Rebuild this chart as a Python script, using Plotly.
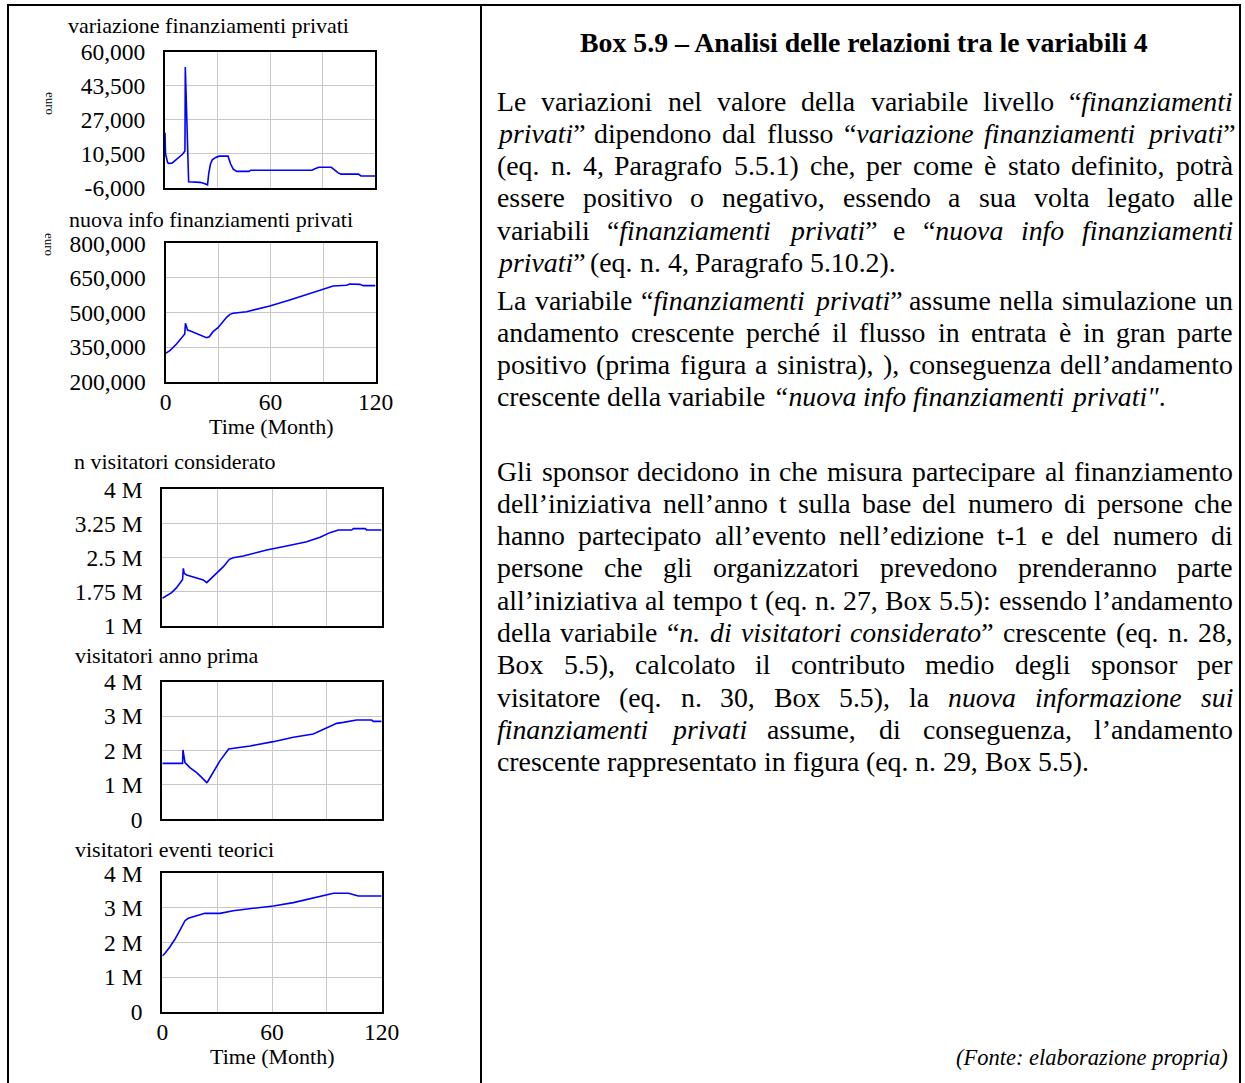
import plotly.graph_objects as go

W, H = 1245, 1083
SERIF = "Liberation Serif, Times New Roman, serif"
BLUE = "#0000ff"
GRID = "#c8c8c8"

# ---------------------------------------------------------------- data
# Simulation output, time in months
t_var_fin = [0, 0.3, 1.5, 2, 4, 6, 8, 10, 11.4, 11.6, 13.5, 16, 20, 22, 23.5, 24.3,
             25, 26, 27, 29, 31, 36, 37.5, 39, 41, 48, 49, 84, 86, 88, 95, 97, 99,
             100.5, 110.5, 112, 120]
var_fin = [20700, 10500, 6200, 5800, 5900, 7200, 8600, 10200, 11800, 52600, -3100,
           -3100, -3400, -3800, -4300, -4600, 1000, 5500, 7500, 8700, 9300, 9400,
           5500, 3000, 1900, 1900, 2500, 2500, 3300, 3900, 3900, 2500, 1200, 600,
           600, -300, -300]

t_nuova_info = [0, 2.5, 6.3, 9.1, 11, 11.4, 12.6, 13.9, 17.7, 21.5, 23.4, 25, 27.2,
                30, 32, 34.9, 36.8, 38.7, 46.3, 59.6, 71, 78.7, 86.3, 95.8, 103.4,
                105.3, 111, 113, 120]
nuova_info = [322900, 334500, 363400, 388000, 406700, 453000, 424000, 421000,
              409600, 398000, 390800, 395000, 416900, 434200, 453000, 479000,
              492000, 496400, 503600, 528000, 554000, 573000, 590400, 615000,
              617800, 623600, 622000, 616400, 616400]

t_vis_cons = [0, 2.4, 5.1, 7.8, 9.7, 10.8, 11.1, 11.5, 12, 13.3, 18.8, 22.4, 24.3,
              26.1, 29.7, 33.4, 36.7, 38.8, 44.3, 57.1, 68, 79, 86.3, 91.7, 96.3,
              103.6, 104.5, 110.9, 111.8, 120]
vis_cons = [1607000, 1658000, 1732000, 1841000, 1951000, 1995000, 2020000, 2266000,
            2156000, 2120000, 2060000, 2010000, 1951000, 2024000, 2171000, 2302000,
            2463000, 2500000, 2537000, 2668000, 2756000, 2851000, 2946000, 3049000,
            3107000, 3107000, 3137000, 3137000, 3107000, 3107000]

t_vis_prima = [0, 11.1, 11.3, 11.9, 12.4, 15.1, 18.8, 21.5, 24.3, 24.8, 27.9, 31.6,
               36.3, 42.5, 48, 60.7, 71.7, 82.6, 89, 95.4, 99, 106.3, 114.5, 115.4, 120]
vis_prima = [1627000, 1627000, 2015000, 1772000, 1647000, 1501000, 1356000, 1220000,
             1065000, 1094000, 1385000, 1705000, 2044000, 2092000, 2131000, 2257000,
             2383000, 2479000, 2644000, 2789000, 2818000, 2886000, 2886000, 2847000,
             2847000]

t_vis_teor = [0, 1.5, 4.2, 6.9, 9.7, 11.1, 12.4, 14.2, 17, 20.6, 23.3, 31.6, 38.8,
              49.8, 60.7, 71.7, 82.6, 89, 93.6, 101.8, 107.2, 120]
vis_teor = [1610000, 1687000, 1879000, 2092000, 2361000, 2506000, 2631000, 2699000,
            2747000, 2795000, 2843000, 2843000, 2920000, 2988000, 3055000, 3152000,
            3277000, 3354000, 3422000, 3422000, 3345000, 3345000]

# axis ticks
time_ticks = [0, 30, 60, 90, 120]
time_labels = ["0", "", "60", "", "120"]
var_ticks = [-6000, 10500, 27000, 43500, 60000]
var_labels = ["-6,000", "10,500", "27,000", "43,500", "60,000"]
info_ticks = [200000, 350000, 500000, 650000, 800000]
info_labels = ["200,000", "350,000", "500,000", "650,000", "800,000"]
cons_ticks = [1000000, 1750000, 2500000, 3250000, 4000000]
cons_labels = ["1 M", "1.75 M", "2.5 M", "3.25 M", "4 M"]
mil_ticks = [0, 1000000, 2000000, 3000000, 4000000]
mil_labels = ["0", "1 M", "2 M", "3 M", "4 M"]

titles = ["variazione finanziamenti privati", "nuova info finanziamenti privati",
          "n visitatori considerato", "visitatori anno prima",
          "visitatori eventi teorici"]
unit_label = "euro"

box_title = "Box 5.9 – Analisi delle relazioni tra le variabili 4"
paragraphs = [
    [
        "Le variazioni nel valore della variabile livello “<i>finanziamenti</i>",
        "<i>privati</i>” dipendono dal flusso “<i>variazione finanziamenti privati</i>”",
        "(eq. n. 4, Paragrafo 5.5.1) che, per come è stato definito, potrà",
        "essere positivo o negativo, essendo a sua volta legato alle",
        "variabili “<i>finanziamenti privati</i>” e “<i>nuova info finanziamenti</i>",
        "<i>privati</i>” (eq. n. 4, Paragrafo 5.10.2).",
    ],
    [
        "La variabile “<i>finanziamenti privati</i>” assume nella simulazione un",
        "andamento crescente perché il flusso in entrata è in gran parte",
        "positivo (prima figura a sinistra), ), conseguenza dell’andamento",
        "crescente della variabile <i>“nuova info finanziamenti privati\"</i>.",
    ],
    [
        "Gli sponsor decidono in che misura partecipare al finanziamento",
        "dell’iniziativa nell’anno t sulla base del numero di persone che",
        "hanno partecipato all’evento nell’edizione t-1 e del numero di",
        "persone che gli organizzatori prevedono prenderanno parte",
        "all’iniziativa al tempo t (eq. n. 27, Box 5.5): essendo l’andamento",
        "della variabile “<i>n. di visitatori considerato</i>” crescente (eq. n. 28,",
        "Box 5.5), calcolato il contributo medio degli sponsor per",
        "visitatore (eq. n. 30, Box 5.5), la <i>nuova informazione sui</i>",
        "<i>finanziamenti privati</i> assume, di conseguenza, l’andamento",
        "crescente rappresentato in figura (eq. n. 29, Box 5.5).",
    ],
]
source_note = "(Fonte: elaborazione propria)"


# ---------------------------------------------------------------- helpers
def px_x(x):
    return x / W


def px_y(y):
    return 1 - y / H


# Times-compatible advance widths (1/1000 em) used to justify the body text
ROMAN = dict(zip("abcdefghijklmnopqrstuvwxyz",
                 [444, 500, 444, 500, 444, 333, 500, 500, 278, 278, 500, 278, 778,
                  500, 500, 500, 500, 333, 389, 278, 500, 500, 722, 500, 500, 444]))
ROMAN.update(zip("ABCDEFGHIJKLMNOPQRSTUVWXYZ",
                 [722, 667, 667, 722, 611, 556, 722, 722, 333, 389, 722, 611, 889,
                  722, 722, 556, 722, 667, 556, 611, 722, 722, 944, 722, 722, 611]))
ROMAN.update({c: 500 for c in "0123456789"})
ROMAN.update({".": 250, ",": 250, "(": 333, ")": 333, ":": 278, ";": 278, "-": 333,
              "–": 500, "“": 444, "”": 444, "’": 333, "‘": 333, '"': 408,
              "è": 444, "à": 444, "é": 444, "ò": 500, "ù": 500, " ": 250})
ITALIC = dict(zip("abcdefghijklmnopqrstuvwxyz",
                  [500, 500, 444, 500, 444, 278, 500, 500, 278, 278, 444, 278, 722,
                   500, 500, 500, 500, 389, 389, 278, 500, 444, 667, 444, 444, 389]))
ITALIC.update({c: 500 for c in "0123456789"})
ITALIC.update({".": 250, ",": 250, "(": 333, ")": 333, ":": 333, "“": 556, "”": 556,
               "’": 333, '"': 420, "F": 611, " ": 250})


def split_words(line):
    """Split a marked-up line into words made of (text, italic) runs."""
    words, cur, buf, italic, i = [], [], "", False, 0
    while i < len(line):
        if line.startswith("<i>", i) or line.startswith("</i>", i):
            if buf:
                cur.append((buf, italic))
                buf = ""
            italic = line.startswith("<i>", i)
            i += 3 if italic else 4
            continue
        ch = line[i]
        if ch == " ":
            if buf:
                cur.append((buf, italic))
                buf = ""
            if cur:
                words.append(cur)
                cur = []
        else:
            buf += ch
        i += 1
    if buf:
        cur.append((buf, italic))
    if cur:
        words.append(cur)
    return words


def word_width(runs, size):
    total = 0
    for text, it in runs:
        table = ITALIC if it else ROMAN
        total += sum(table.get(ch, 500) for ch in text)
    return total * size / 1000


def word_html(runs):
    return "".join(f"<i>{t}</i>" if it else t for t, it in runs)


def label(text, x, y, size, xanchor="left", angle=0, italic=False):
    return dict(text=f"<i>{text}</i>" if italic else text, x=px_x(x), y=px_y(y),
                xref="paper", yref="paper", xanchor=xanchor, yanchor="middle",
                textangle=angle, showarrow=False, borderpad=0,
                font=dict(family=SERIF, size=size, color="black"))


# ---------------------------------------------------------------- figure
fig = go.Figure()

panels = [
    (t_var_fin, var_fin, (165, 375), (51.7, 187.7), [-6000, 60000], var_ticks, var_labels, False),
    (t_nuova_info, nuova_info, (165.5, 375.5), (243.3, 381.7), [200000, 800000], info_ticks, info_labels, True),
    (t_vis_cons, vis_cons, (162.3, 381.7), (489.3, 626), [1000000, 4000000], cons_ticks, cons_labels, False),
    (t_vis_prima, vis_prima, (162.3, 381.7), (681.7, 819.3), [0, 4000000], mil_ticks, mil_labels, False),
    (t_vis_teor, vis_teor, (162.3, 381.7), (873.3, 1011.7), [0, 4000000], mil_ticks, mil_labels, True),
]
title_pos = [(67, 25.5), (67.5, 219), (73, 461.5), (73.5, 655), (73.5, 849)]

layout_axes = {}
annotations = []
tick_font = dict(family=SERIF, size=23.5, color="black")

for k, (tx, ty, xd, yd, yr, yt, yl, show_time) in enumerate(panels, start=1):
    sfx = "" if k == 1 else str(k)
    fig.add_trace(go.Scatter(x=tx, y=ty, mode="lines",
                             line=dict(color=BLUE, width=1.6),
                             xaxis="x" + sfx, yaxis="y" + sfx,
                             showlegend=False, hoverinfo="skip"))
    layout_axes["xaxis" + sfx] = dict(
        domain=[px_x(xd[0]), px_x(xd[1])], anchor="y" + sfx, range=[0, 120],
        tickmode="array", tickvals=time_ticks, ticktext=time_labels,
        showticklabels=show_time, ticks="", ticklabelstandoff=-2, automargin=False,
        showgrid=True, gridcolor=GRID, gridwidth=1, zeroline=False,
        showline=True, linecolor="black", linewidth=2, mirror=True,
        tickfont=tick_font, fixedrange=True)
    layout_axes["yaxis" + sfx] = dict(
        domain=[px_y(yd[1]), px_y(yd[0])], anchor="x" + sfx, range=yr,
        tickmode="array", tickvals=yt, ticktext=yl, ticks="",
        ticklabelstandoff=13, automargin=False,
        showgrid=True, gridcolor=GRID, gridwidth=1, zeroline=False,
        showline=True, linecolor="black", linewidth=2, mirror=True,
        tickfont=tick_font, fixedrange=True)
    annotations.append(label(titles[k - 1], *title_pos[k - 1], 22))
    if show_time:
        annotations.append(label("Time (Month)", (xd[0] + xd[1]) / 2, yd[1] + 45,
                                 22, xanchor="center"))

# unit labels of the two money panels
for yc in (103, 244):
    annotations.append(label(unit_label, 50, yc, 13, xanchor="center", angle=90))

# right-hand text column
BODY = 27.8
LEFT, RIGHT = 496, 1232
annotations.append(label(f"<b>{box_title}</b>", 863.5, 43, BODY, xanchor="center"))

para_top = [101, 300, 471]
PITCH = 32.3
for top, lines in zip(para_top, paragraphs):
    for j, line in enumerate(lines):
        y = top + j * PITCH
        words = split_words(line)
        widths = [word_width(w, BODY) for w in words]
        last = j == len(lines) - 1
        if last or len(words) < 2:
            gap = 0.25 * BODY
        else:
            gap = (RIGHT - LEFT - sum(widths)) / (len(words) - 1)
        x = LEFT
        for w, wd in zip(words, widths):
            annotations.append(label(word_html(w), x, y, BODY))
            x += wd + gap

annotations.append(label(source_note, 1229, 1057, 22.5, xanchor="right", italic=True))

# frame of the box
frame = dict(type="line", xref="paper", yref="paper", line=dict(color="black", width=2))
shapes = [
    dict(frame, x0=px_x(7), x1=px_x(1241), y0=px_y(5), y1=px_y(5)),
    dict(frame, x0=px_x(8), x1=px_x(8), y0=px_y(5), y1=0),
    dict(frame, x0=px_x(481), x1=px_x(481), y0=px_y(5), y1=0),
    dict(frame, x0=px_x(1240), x1=px_x(1240), y0=px_y(5), y1=0),
]

fig.update_layout(
    width=W, height=H, autosize=False,
    margin=dict(l=0, r=0, t=0, b=0, pad=0, autoexpand=False),
    showlegend=False,
    paper_bgcolor="white", plot_bgcolor="white",
    font=dict(family=SERIF, color="black"),
    annotations=annotations, shapes=shapes,
    **layout_axes,
)

fig.write_html("out.html")
